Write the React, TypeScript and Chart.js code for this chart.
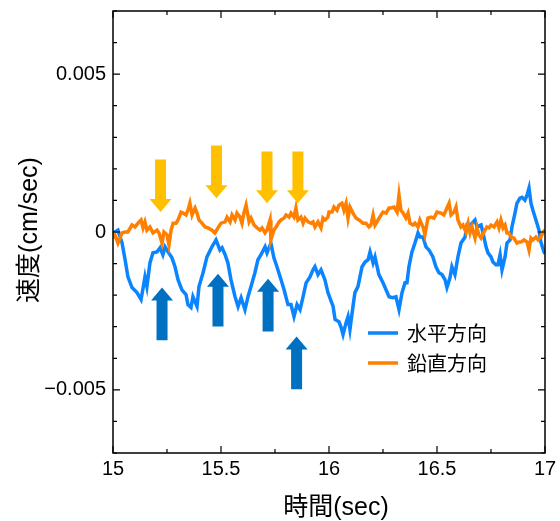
import { useEffect, useRef } from 'react';
import { Chart, registerables } from 'chart.js';

Chart.register(...registerables);

// ---- data (time in sec, velocity in cm/sec) ----
const horizontalTime = [15.000,15.023,15.042,15.056,15.069,15.088,15.111,15.130,15.148,15.157,15.171,15.185,15.204,15.218,15.231,15.241,15.255,15.273,15.287,15.301,15.319,15.338,15.347,15.361,15.370,15.389,15.398,15.417,15.435,15.458,15.477,15.495,15.505,15.519,15.532,15.546,15.565,15.579,15.593,15.611,15.625,15.639,15.657,15.671,15.685,15.704,15.713,15.731,15.745,15.759,15.778,15.792,15.810,15.824,15.838,15.852,15.866,15.880,15.894,15.912,15.926,15.935,15.949,15.963,15.981,15.995,16.019,16.028,16.046,16.056,16.065,16.079,16.088,16.097,16.111,16.120,16.134,16.153,16.167,16.181,16.190,16.204,16.213,16.231,16.250,16.264,16.278,16.296,16.310,16.324,16.338,16.352,16.361,16.370,16.384,16.398,16.412,16.421,16.435,16.449,16.463,16.481,16.495,16.509,16.523,16.537,16.546,16.560,16.569,16.583,16.597,16.611,16.630,16.639,16.653,16.662,16.676,16.685,16.704,16.713,16.727,16.736,16.750,16.759,16.773,16.782,16.792,16.801,16.815,16.824,16.838,16.847,16.861,16.870,16.884,16.894,16.907,16.917,16.926,16.935,16.944,16.958,16.972,16.981,16.995,17.000];
const horizontalVel = [-0.03e-3,0.06e-3,-0.35e-3,-0.88e-3,-1.42e-3,-1.76e-3,-1.92e-3,-2.14e-3,-1.42e-3,-1.73e-3,-0.98e-3,-0.66e-3,-0.63e-3,-0.50e-3,-0.72e-3,-0.47e-3,-0.63e-3,-0.82e-3,-1.10e-3,-1.51e-3,-1.83e-3,-1.98e-3,-2.30e-3,-2.39e-3,-2.05e-3,-2.36e-3,-1.73e-3,-1.29e-3,-0.79e-3,-0.47e-3,-0.25e-3,-0.57e-3,-0.50e-3,-0.72e-3,-0.98e-3,-1.51e-3,-2.05e-3,-2.36e-3,-2.08e-3,-2.46e-3,-2.05e-3,-1.73e-3,-1.29e-3,-0.88e-3,-0.72e-3,-0.47e-3,-0.66e-3,-0.35e-3,-0.82e-3,-1.10e-3,-1.51e-3,-1.83e-3,-2.30e-3,-2.30e-3,-2.68e-3,-2.30e-3,-2.46e-3,-2.05e-3,-1.61e-3,-1.42e-3,-1.20e-3,-1.10e-3,-1.35e-3,-1.20e-3,-1.51e-3,-1.92e-3,-2.36e-3,-2.77e-3,-2.84e-3,-3.02e-3,-3.25e-3,-2.87e-3,-2.68e-3,-3.09e-3,-2.36e-3,-1.92e-3,-1.73e-3,-1.10e-3,-0.95e-3,-0.88e-3,-0.63e-3,-0.98e-3,-0.79e-3,-1.35e-3,-1.61e-3,-1.83e-3,-2.05e-3,-2.08e-3,-2.05e-3,-2.46e-3,-1.92e-3,-1.61e-3,-1.61e-3,-1.10e-3,-0.63e-3,-0.35e-3,-0.03e-3,-0.16e-3,-0.16e-3,-0.47e-3,-0.57e-3,-0.79e-3,-1.10e-3,-1.29e-3,-1.35e-3,-1.51e-3,-1.76e-3,-1.45e-3,-1.10e-3,-1.35e-3,-0.79e-3,-0.35e-3,-0.16e-3,0.22e-3,0.16e-3,0.28e-3,0.38e-3,0.16e-3,0.22e-3,-0.03e-3,-0.47e-3,-0.66e-3,-0.79e-3,-0.95e-3,-1.04e-3,-1.04e-3,-0.72e-3,-1.20e-3,-0.79e-3,-0.35e-3,-0.25e-3,0.16e-3,0.60e-3,0.91e-3,1.07e-3,1.10e-3,1.01e-3,1.17e-3,1.39e-3,0.91e-3,0.69e-3,0.38e-3,0.06e-3,-0.32e-3,-0.63e-3,-0.70e-3];

const verticalTime = [15.000,15.009,15.023,15.042,15.056,15.069,15.088,15.102,15.116,15.130,15.139,15.148,15.157,15.171,15.185,15.204,15.213,15.227,15.236,15.250,15.259,15.269,15.278,15.292,15.301,15.315,15.324,15.338,15.347,15.356,15.366,15.380,15.389,15.398,15.412,15.426,15.440,15.458,15.472,15.486,15.500,15.519,15.528,15.542,15.551,15.565,15.574,15.588,15.597,15.606,15.616,15.630,15.639,15.653,15.667,15.681,15.690,15.704,15.713,15.727,15.731,15.745,15.755,15.769,15.778,15.792,15.801,15.815,15.824,15.838,15.847,15.856,15.870,15.880,15.889,15.903,15.917,15.926,15.935,15.949,15.963,15.972,15.981,15.995,16.000,16.014,16.023,16.037,16.046,16.060,16.069,16.079,16.088,16.097,16.111,16.125,16.139,16.157,16.171,16.185,16.194,16.204,16.213,16.227,16.241,16.250,16.264,16.278,16.287,16.301,16.315,16.324,16.333,16.343,16.356,16.366,16.375,16.389,16.398,16.412,16.421,16.435,16.444,16.458,16.472,16.486,16.500,16.519,16.532,16.546,16.556,16.565,16.579,16.588,16.597,16.611,16.620,16.634,16.644,16.653,16.662,16.676,16.685,16.694,16.704,16.718,16.731,16.741,16.750,16.764,16.778,16.787,16.796,16.806,16.815,16.824,16.833,16.843,16.856,16.870,16.880,16.889,16.903,16.917,16.926,16.935,16.944,16.958,16.968,16.981,16.991,17.000];
const verticalVel = [-0.19e-3,-0.09e-3,-0.35e-3,-0.03e-3,0,0,0.22e-3,0.16e-3,0.28e-3,0.38e-3,0.13e-3,0.32e-3,0.06e-3,0.16e-3,-0.03e-3,0.06e-3,-0.03e-3,-0.35e-3,0,-0.09e-3,-0.41e-3,0.06e-3,0.28e-3,0.28e-3,0.38e-3,0.63e-3,0.60e-3,0.54e-3,0.69e-3,0.91e-3,0.54e-3,0.76e-3,0.60e-3,0.38e-3,0.28e-3,0.16e-3,0.13e-3,0.06e-3,-0.03e-3,0.13e-3,0.28e-3,0.32e-3,0.47e-3,0.32e-3,0.54e-3,0.38e-3,0.60e-3,0.47e-3,0.28e-3,0.60e-3,0.85e-3,0.32e-3,0.44e-3,0.22e-3,0.13e-3,0.06e-3,0.13e-3,-0.03e-3,0.06e-3,0.38e-3,-0.25e-3,0.06e-3,0.16e-3,0.32e-3,0.38e-3,0.44e-3,0.54e-3,0.47e-3,0.60e-3,0.47e-3,0.76e-3,0.38e-3,0.47e-3,0.28e-3,0.44e-3,0.32e-3,0.28e-3,0.32e-3,0.16e-3,0.32e-3,0.13e-3,0.44e-3,0.38e-3,0.47e-3,0.63e-3,0.63e-3,0.79e-3,0.69e-3,0.85e-3,0.91e-3,0.69e-3,0.91e-3,0.44e-3,0.79e-3,0.60e-3,0.44e-3,0.38e-3,0.28e-3,0.28e-3,0.16e-3,0.22e-3,0.54e-3,0.22e-3,0.38e-3,0.54e-3,0.63e-3,0.60e-3,0.76e-3,0.76e-3,0.79e-3,0.63e-3,1.17e-3,0.69e-3,0.60e-3,0.44e-3,0.60e-3,0.28e-3,0.22e-3,0.28e-3,0.16e-3,0.38e-3,0.16e-3,-0.09e-3,0.44e-3,0.47e-3,0.44e-3,0.63e-3,0.60e-3,0.54e-3,0.76e-3,0.91e-3,0.54e-3,0.63e-3,0.79e-3,0.38e-3,0.16e-3,0.22e-3,0,0.28e-3,-0.03e-3,0.16e-3,-0.19e-3,0.13e-3,-0.09e-3,-0.19e-3,0,0.16e-3,0.13e-3,0.22e-3,0.16e-3,0.32e-3,0.13e-3,0.38e-3,0.13e-3,0.22e-3,-0.03e-3,-0.03e-3,-0.16e-3,-0.19e-3,-0.35e-3,-0.32e-3,-0.32e-3,-0.25e-3,-0.32e-3,-0.57e-3,-0.19e-3,-0.25e-3,-0.16e-3,-0.25e-3,-0.16e-3,0,0.06e-3];

// annotation arrows: time, tail value, tip value
const downArrowTime = [15.220, 15.479, 15.713, 15.856];
const downArrowTail = [2.30e-3, 2.74e-3, 2.55e-3, 2.55e-3];
const downArrowTip = [0.63e-3, 1.07e-3, 0.91e-3, 0.91e-3];
const upArrowTime = [15.227, 15.486, 15.718, 15.850];
const upArrowTail = [-3.43e-3, -2.99e-3, -3.15e-3, -4.98e-3];
const upArrowTip = [-1.76e-3, -1.32e-3, -1.48e-3, -3.31e-3];

const seriesNames = ['水平方向', '鉛直方向'];
const yLabeled = [-0.005, 0, 0.005];
const yTickText = ['\u22120.005', '0', '0.005'];
const xLabeled = [15, 15.5, 16, 16.5, 17];
const xTickText = ['15', '15.5', '16', '16.5', '17'];
const xTitle = '時間(sec)';
const yTitle = '速度(cm/sec)';

const BLUE = '#0a84ff';
const ORANGE = '#ff8000';
const ARROW_DOWN = '#ffc000';
const ARROW_UP = '#0070c0';
const FONT = '"Liberation Sans", Arial, "Noto Sans CJK JP", sans-serif';

function pairs(t: number[], v: number[]) {
  const n = Math.min(t.length, v.length);
  const out: { x: number; y: number }[] = [];
  for (let i = 0; i < n; i++) out.push({ x: t[i], y: v[i] });
  return out;
}

const decorPlugin = {
  id: 'decor',
  afterDatasetsDraw(chart: any) {
    const { ctx, chartArea: a, scales } = chart;
    const xs = scales.x;
    const ys = scales.y;
    ctx.save();
    // arrows
    const drawArrow = (x: number, tail: number, tip: number, color: string) => {
      const shaftW = 11, headW = 22, headL = 13;
      const dir = tip > tail ? 1 : -1;
      const base = tip - dir * headL;
      ctx.fillStyle = color;
      ctx.beginPath();
      ctx.moveTo(x - shaftW / 2, tail);
      ctx.lineTo(x + shaftW / 2, tail);
      ctx.lineTo(x + shaftW / 2, base);
      ctx.lineTo(x + headW / 2, base);
      ctx.lineTo(x, tip);
      ctx.lineTo(x - headW / 2, base);
      ctx.lineTo(x - shaftW / 2, base);
      ctx.closePath();
      ctx.fill();
    };
    downArrowTime.forEach((t, i) => drawArrow(xs.getPixelForValue(t), ys.getPixelForValue(downArrowTail[i]), ys.getPixelForValue(downArrowTip[i]), ARROW_DOWN));
    upArrowTime.forEach((t, i) => drawArrow(xs.getPixelForValue(t), ys.getPixelForValue(upArrowTail[i]), ys.getPixelForValue(upArrowTip[i]), ARROW_UP));

    // legend
    const colors = [BLUE, ORANGE];
    const lx = a.left + 255;
    const ly = a.top + 322;
    ctx.font = '20px "Noto Sans CJK JP", sans-serif';
    ctx.textBaseline = 'middle';
    ctx.textAlign = 'left';
    seriesNames.forEach((name, i) => {
      const y = ly + i * 30;
      ctx.strokeStyle = colors[i];
      ctx.lineWidth = 3.5;
      ctx.beginPath();
      ctx.moveTo(lx, y);
      ctx.lineTo(lx + 30, y);
      ctx.stroke();
      ctx.fillStyle = '#000';
      ctx.fillText(name, lx + 39, y);
    });

    // frame
    ctx.strokeStyle = '#000';
    ctx.lineWidth = 1.5;
    ctx.strokeRect(a.left, a.top, a.right - a.left, a.bottom - a.top);

    // inward ticks
    ctx.lineWidth = 1.2;
    ctx.beginPath();
    for (let i = 0; i <= 8; i++) {
      const x = xs.getPixelForValue(15 + i * 0.25);
      const len = i % 2 === 0 ? 7 : 4;
      ctx.moveTo(x, a.bottom); ctx.lineTo(x, a.bottom - len);
      ctx.moveTo(x, a.top); ctx.lineTo(x, a.top + len);
    }
    for (let i = -7; i <= 7; i++) {
      const y = ys.getPixelForValue(i * 0.001);
      const len = i % 5 === 0 ? 7 : 4;
      ctx.moveTo(a.left, y); ctx.lineTo(a.left + len, y);
      ctx.moveTo(a.right, y); ctx.lineTo(a.right - len, y);
    }
    ctx.stroke();

    // axis titles
    ctx.fillStyle = '#000';
    ctx.font = '25px ' + FONT;
    ctx.textAlign = 'center';
    ctx.textBaseline = 'middle';
    ctx.fillText(xTitle, 336, 508);
    ctx.save();
    ctx.translate(30, 230);
    ctx.rotate(-Math.PI / 2);
    ctx.fillText(yTitle, 0, 0);
    ctx.restore();
    ctx.restore();
  },
};

export default function App() {
  const ref = useRef<HTMLCanvasElement>(null);
  useEffect(() => {
    if (!ref.current) return;
    const chart = new Chart(ref.current, {
      type: 'line',
      data: {
        datasets: [
          {
            label: seriesNames[0],
            data: pairs(horizontalTime, horizontalVel),
            borderColor: BLUE,
            borderWidth: 3.5,
            pointRadius: 0,
            tension: 0,
            fill: false,
            order: 1,
          },
          {
            label: seriesNames[1],
            data: pairs(verticalTime, verticalVel),
            borderColor: ORANGE,
            borderWidth: 3.5,
            pointRadius: 0,
            tension: 0,
            fill: false,
            order: 0,
          },
        ],
      },
      options: {
        responsive: false,
        animation: false,
        parsing: false as any,
        layout: { padding: { top: 11, right: 15, left: 0, bottom: 0 } },
        plugins: { legend: { display: false }, tooltip: { enabled: false } },
        scales: {
          x: {
            type: 'linear',
            min: 15,
            max: 17,
            afterBuildTicks: (s: any) => { s.ticks = xLabeled.map((v) => ({ value: v })); },
            ticks: {
              autoSkip: false,
              maxRotation: 0,
              padding: 4,
              color: '#000',
              font: { family: FONT, size: 20 },
              callback: (v: any) => {
                const i = xLabeled.findIndex((t) => Math.abs(t - Number(v)) < 1e-6);
                return i >= 0 ? xTickText[i] : '';
              },
            },
            grid: { display: false, drawTicks: false },
            border: { display: false },
            afterFit: (s: any) => { s.height = 68; s.paddingLeft = 0; s.paddingRight = 0; },
          },
          y: {
            type: 'linear',
            min: -0.007,
            max: 0.007,
            afterBuildTicks: (s: any) => { s.ticks = yLabeled.map((v) => ({ value: v })); },
            ticks: {
              autoSkip: false,
              padding: 7,
              color: '#000',
              font: { family: FONT, size: 20 },
              callback: (v: any) => {
                const i = yLabeled.findIndex((t) => Math.abs(t - Number(v)) < 1e-9);
                return i >= 0 ? yTickText[i] : '';
              },
            },
            grid: { display: false, drawTicks: false },
            border: { display: false },
            afterFit: (s: any) => { s.width = 113; s.paddingTop = 0; s.paddingBottom = 0; },
          },
        },
      },
      plugins: [decorPlugin],
    });
    return () => chart.destroy();
  }, []);
  return (
    <div style={{ position: 'absolute', left: 0, top: 0, width: 560, height: 521, background: '#fff' }}>
      <canvas ref={ref} width={560} height={521} style={{ display: 'block', width: 560, height: 521 }} />
    </div>
  );
}
